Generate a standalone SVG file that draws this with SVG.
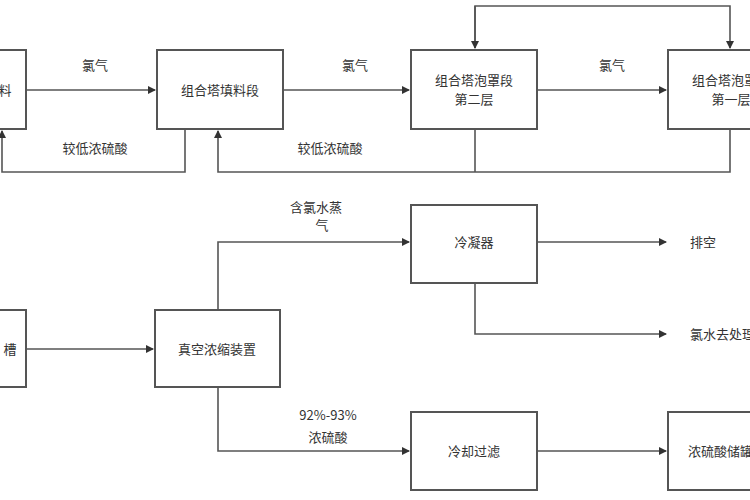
<svg xmlns="http://www.w3.org/2000/svg" width="750" height="500" viewBox="0 0 750 500">
<style>
.b{fill:#fff;stroke:#555;stroke-width:2}
.l{fill:none;stroke:#555;stroke-width:1.6}
text{font-family:"Noto Sans CJK SC",sans-serif;font-size:13px;fill:#333;text-anchor:middle}
.s{text-anchor:start}
</style>
<defs><marker id="a" markerWidth="8" markerHeight="8" refX="7" refY="4" orient="auto" markerUnits="userSpaceOnUse"><path d="M0,0L8,4L0,8z" fill="#333"/></marker></defs>
<rect width="750" height="500" fill="#fff"/>
<g id="connectors">
<path class="l" d="M26,90H155" marker-end="url(#a)"/>
<path class="l" d="M283,90H409" marker-end="url(#a)"/>
<path class="l" d="M537,90H666" marker-end="url(#a)"/>
<path class="l" d="M475,48V6H730V48" marker-end="url(#a)"/>
<path class="l" d="M475,6V48" marker-end="url(#a)"/>
<path class="l" d="M185,129V172H2V131" marker-end="url(#a)"/>
<path class="l" d="M730,129V172H218V131" marker-end="url(#a)"/>
<path class="l" d="M475,129V172"/>
<path class="l" d="M26,349H153" marker-end="url(#a)"/>
<path class="l" d="M218,310V242H409" marker-end="url(#a)"/>
<path class="l" d="M537,242H666" marker-end="url(#a)"/>
<path class="l" d="M475,283V334H666" marker-end="url(#a)"/>
<path class="l" d="M218,387V451H409" marker-end="url(#a)"/>
<path class="l" d="M537,451H666" marker-end="url(#a)"/>
<text x="95" y="70">氯气</text>
<text x="355" y="70">氯气</text>
<text x="612" y="70">氯气</text>
<text x="95" y="153">较低浓硫酸</text>
<text x="330" y="153">较低浓硫酸</text>
<text x="316" y="212">含氯水蒸</text>
<text x="322" y="230">气</text>
<text x="328" y="420">92%-93%</text>
<text x="328" y="442">浓硫酸</text>
<text class="s" x="690" y="247">排空</text>
<text class="s" x="690" y="339">氯水去处理</text>
</g>
<g id="n1"><rect class="b" x="-20" y="50" width="46" height="79"/><text x="5" y="95">料</text></g>
<g id="n2"><rect class="b" x="157" y="50" width="126" height="79"/><text x="220" y="95">组合塔填料段</text></g>
<g id="n3"><rect class="b" x="411" y="50" width="126" height="79"/><text x="474" y="85">组合塔泡罩段</text><text x="474" y="104">第二层</text></g>
<g id="n4"><rect class="b" x="668" y="50" width="126" height="79"/><text x="731" y="85">组合塔泡罩段</text><text x="731" y="104">第一层</text></g>
<g id="n5"><rect class="b" x="-20" y="310" width="46" height="77"/><text x="10" y="354">槽</text></g>
<g id="n6"><rect class="b" x="155" y="310" width="125" height="77"/><text x="217" y="354">真空浓缩装置</text></g>
<g id="n7"><rect class="b" x="411" y="205" width="126" height="78"/><text x="474" y="247">冷凝器</text></g>
<g id="n8"><rect class="b" x="411" y="412" width="126" height="78"/><text x="474" y="456">冷却过滤</text></g>
<g id="n9"><rect class="b" x="668" y="412" width="126" height="78"/><text class="s" x="688" y="456">浓硫酸储罐</text></g>
</svg>
